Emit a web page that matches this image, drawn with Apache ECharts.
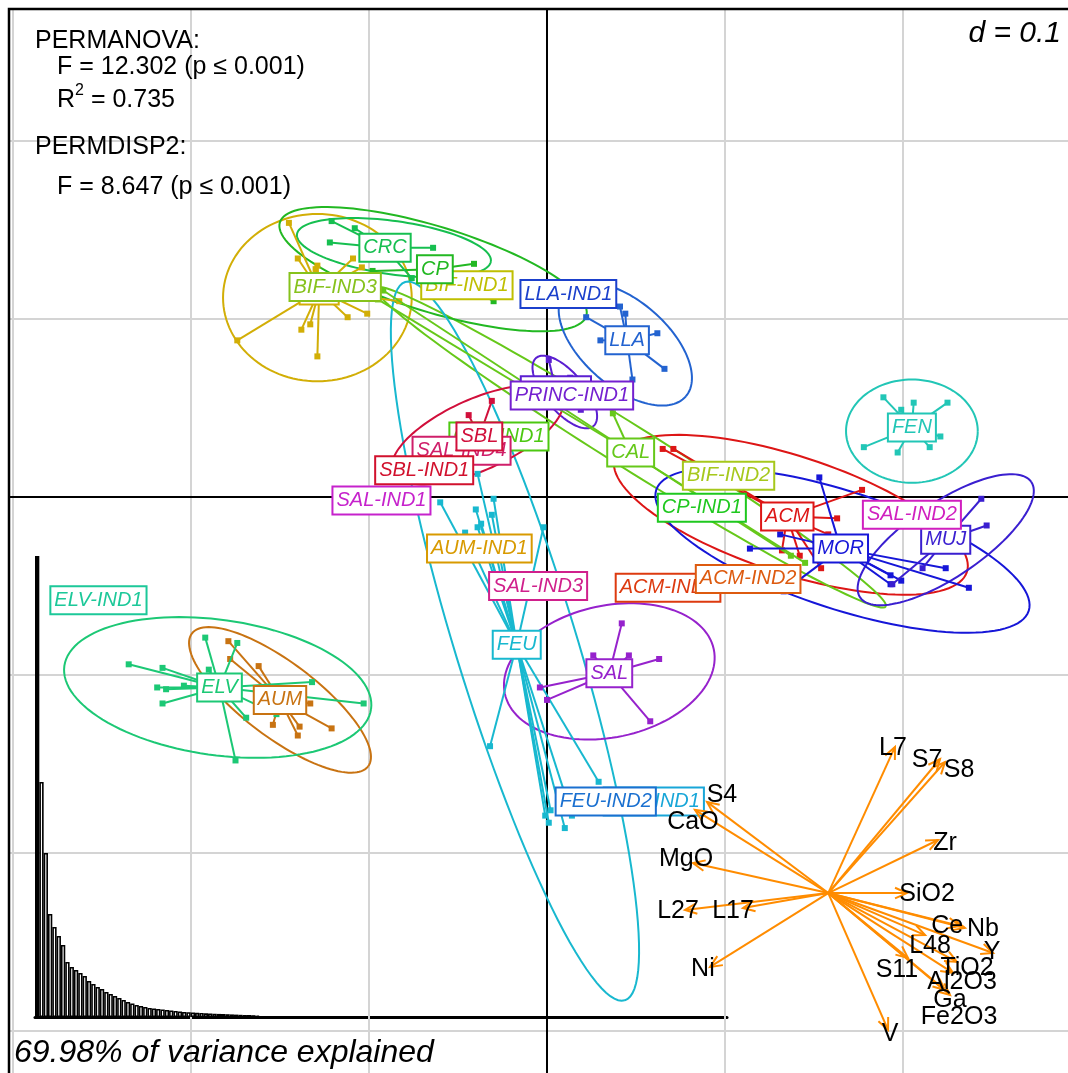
<!DOCTYPE html>
<html><head><meta charset="utf-8">
<script src="https://cdn.jsdelivr.net/npm/echarts@6/dist/echarts.min.js"></script>
<style>html,body{margin:0;padding:0;background:#fff}#c{width:1068px;height:1073px}</style>
</head><body><div id="c"></div>
<script>
// ---------------- DATA ----------------
const gridTicksX = [-0.3, -0.2, -0.1, 0.1, 0.2];
const gridTicksY = [0.2, 0.1, -0.1, -0.2, -0.3];

// group labels (alphabetical draw order), their positions (group means) and colours
const labelNames = ['ACM','ACM-IND1','ACM-IND2','AUM','AUM-IND1','BIF','BIF-IND1','BIF-IND2','BIF-IND3','CAL','CAL-IND1','CP','CP-IND1','CRC','ELV','ELV-IND1','FEN','FEU','FEU-IND1','FEU-IND2','LLA','LLA-IND1','MOR','MUJ','PRINC','PRINC-IND1','SAL','SAL-IND1','SAL-IND2','SAL-IND3','SAL-IND4','SBL','SBL-IND1'];
const labelX = [0.135,0.068,0.113,-0.150,-0.038,-0.128,-0.045,0.102,-0.119,0.047,-0.027,-0.063,0.087,-0.091,-0.184,-0.252,0.205,-0.017,0.060,0.033,0.045,0.012,0.165,0.224,0.005,0.014,0.035,-0.093,0.205,-0.005,-0.048,-0.038,-0.069];
const labelY = [-0.011,-0.051,-0.046,-0.114,-0.029,0.116,0.119,0.012,0.118,0.025,0.034,0.128,-0.006,0.140,-0.107,-0.058,0.039,-0.083,-0.171,-0.171,0.088,0.114,-0.029,-0.024,0.060,0.057,-0.099,-0.002,-0.010,-0.050,0.026,0.034,0.015];
const labelColors = ['#dd1616','#dd3a0f','#dd5a0f','#c87312','#d89a00','#d2ae06','#bfbf00','#a6c81c','#86c21c','#66c81a','#4cc811','#22b822','#1fc81f','#16bf50','#1cc875','#1cc899','#22c6b6','#18b8cf','#18a6d8','#1a70d0','#2363d0','#1b40cc','#1616d8','#3a1fd0','#5b1fd1','#7420d0','#9622cc','#c622cc','#d01fbf','#d0208c','#cf1f6a','#d10f3b','#d1112d'];

// ellipses (group, centre, semi-axes, angle in degrees)
const ellipseGroups = ['ACM','AUM','BIF','CAL','CP','CRC','ELV','FEN','FEU','LLA','MOR','MUJ','PRINC','SAL','SBL'];
const ellipseCx = [0.137,-0.150,-0.129,0.047,-0.064,-0.086,-0.185,0.205,-0.018,0.044,0.166,0.224,0.010,0.035,-0.039];
const ellipseCy = [-0.010,-0.114,0.112,0.028,0.128,0.140,-0.107,0.037,-0.081,0.086,-0.030,-0.024,0.059,-0.098,0.035];
const ellipseA  = [0.104,0.062,0.053,0.169,0.090,0.055,0.087,0.037,0.211,0.045,0.110,0.058,0.025,0.060,0.052];
const ellipseB  = [0.033,0.021,0.047,0.012,0.024,0.015,0.038,0.029,0.034,0.024,0.033,0.021,0.011,0.037,0.020];
const ellipseAngle = [-18,-37,0,-32,-17,-8,-8,0,-73,-41,-18,34,-50,12,24];

// individual samples per group (star points)
const ptsACM = [[0.065,0.027],[0.071,0.027],[0.177,0.004],[0.163,-0.012],[0.158,-0.021],[0.132,-0.030],[0.142,-0.033],[0.154,-0.040]];
const ptsAUM = [[-0.179,-0.081],[-0.178,-0.091],[-0.162,-0.095],[-0.133,-0.116],[-0.139,-0.129],[-0.121,-0.130],[-0.140,-0.134],[-0.154,-0.128]];
const ptsBIF = [[-0.145,0.154],[-0.140,0.134],[-0.129,0.130],[-0.130,0.128],[-0.109,0.134],[-0.104,0.129],[-0.112,0.101],[-0.101,0.103],[-0.083,0.110],[-0.174,0.088],[-0.138,0.094],[-0.133,0.097],[-0.129,0.079]];
const ptsCAL = [[-0.092,0.116],[-0.095,0.111],[0.037,0.047],[0.145,-0.037],[0.137,-0.033]];
const ptsCP = [[-0.041,0.131],[-0.030,0.110],[-0.098,0.127]];
const ptsCRC = [[-0.121,0.155],[-0.108,0.151],[-0.122,0.143],[-0.064,0.140],[-0.076,0.123]];
const ptsELV = [[-0.235,-0.094],[-0.216,-0.096],[-0.219,-0.107],[-0.214,-0.108],[-0.204,-0.106],[-0.216,-0.116],[-0.192,-0.079],[-0.174,-0.082],[-0.190,-0.097],[-0.169,-0.124],[-0.175,-0.148],[-0.132,-0.104],[-0.103,-0.116],[-0.152,-0.122]];
const ptsFEN = [[0.189,0.056],[0.206,0.053],[0.225,0.053],[0.199,0.049],[0.178,0.028],[0.197,0.025],[0.215,0.028],[0.221,0.034]];
const ptsFEU = [[-0.039,0.013],[-0.030,-0.001],[-0.060,-0.003],[-0.040,-0.007],[-0.031,-0.010],[-0.037,-0.015],[-0.039,-0.017],[-0.046,-0.020],[-0.002,-0.017],[-0.032,-0.140],[0.029,-0.160],[-0.001,-0.179],[0.001,-0.183],[0.010,-0.186],[0.014,-0.179],[0.002,-0.176]];
const ptsLLA = [[0.041,0.107],[0.044,0.103],[0.022,0.101],[0.030,0.088],[0.062,0.092],[0.066,0.072],[0.048,0.066]];
const ptsMOR = [[0.153,0.011],[0.114,-0.029],[0.131,-0.021],[0.133,-0.053],[0.193,-0.044],[0.199,-0.047],[0.193,-0.049],[0.224,-0.040],[0.237,-0.051]];
const ptsMUJ = [[0.244,-0.001],[0.247,-0.016],[0.211,-0.040],[0.194,-0.049]];
const ptsPRINC = [[0.001,0.077],[0.019,0.049],[0.013,0.067]];
const ptsSAL = [[0.042,-0.071],[0.063,-0.091],[0.046,-0.089],[0.026,-0.089],[-0.004,-0.107],[0.000,-0.114],[0.058,-0.126]];
const ptsSBL = [[-0.031,0.054],[-0.044,0.046]];

// variable arrows
const arrowOrigin = [0.158, -0.2225];
const arrowNames = ['L7','S7','S8','Zr','SiO2','Ce','Nb','Y','L48','TiO2','Al2O3','Ga','Fe2O3','S11','V','Ni','L27','L17','MgO','CaO','S4'];
const arrowTipX = [0.1955,0.2208,0.2236,0.2197,0.2022,0.2320,0.2348,0.2506,0.2124,0.2303,0.2281,0.2264,0.2236,0.2028,0.1916,0.0916,0.0775,0.1101,0.0820,0.0831,0.0899];
const arrowTipY = [-0.1404,-0.1472,-0.1489,-0.1927,-0.2225,-0.2410,-0.2421,-0.2562,-0.2461,-0.2612,-0.2674,-0.2798,-0.2770,-0.2590,-0.2994,-0.2640,-0.2320,-0.2309,-0.2056,-0.1758,-0.1713];
const arrowLabelX = [0.1944,0.2135,0.2315,0.2236,0.2135,0.2248,0.2449,0.2500,0.2152,0.2360,0.2332,0.2264,0.2315,0.1966,0.1927,0.0876,0.0736,0.1045,0.0781,0.0820,0.0983];
const arrowLabelY = [-0.1410,-0.1478,-0.1534,-0.1944,-0.2230,-0.2410,-0.2427,-0.2556,-0.2523,-0.2646,-0.2725,-0.2826,-0.2921,-0.2657,-0.3017,-0.2652,-0.2326,-0.2326,-0.2033,-0.1826,-0.1674];

// eigenvalues (inset bar plot)
const eigValues = [46.1,23.5,16.4,10.3,9.0,8.1,7.2,5.5,5.0,4.7,4.4,4.1,3.6,3.3,3.0,2.8,2.5,2.3,2.1,1.9,1.7,1.5,1.35,1.2,1.1,1.0,0.9,0.85,0.8,0.75,0.7,0.65,0.6,0.55,0.5,0.48,0.45,0.42,0.4,0.37,0.35,0.33,0.31,0.3,0.28,0.26,0.24,0.22,0.2,0.2,0.18,0.15,0.05,0.04,0.03];
const eigAxisCount = 160;

// ---------------- BUILD ----------------
const FONT = '"Liberation Sans", Arial, sans-serif';
const starSets = {ACM:ptsACM, AUM:ptsAUM, BIF:ptsBIF, CAL:ptsCAL, CP:ptsCP, CRC:ptsCRC, ELV:ptsELV, FEN:ptsFEN, FEU:ptsFEU, LLA:ptsLLA, MOR:ptsMOR, MUJ:ptsMUJ, PRINC:ptsPRINC, SAL:ptsSAL, SBL:ptsSBL};
const starData = [];
Object.keys(starSets).forEach(g => {
  const gi = labelNames.indexOf(g);
  starSets[g].forEach(p => starData.push([labelX[gi], labelY[gi], p[0], p[1], gi]));
});
const ellipseData = ellipseGroups.map((g, i) => [ellipseCx[i], ellipseCy[i], ellipseA[i], ellipseB[i], ellipseAngle[i], labelNames.indexOf(g)]);
const labelData = labelNames.map((n, i) => [labelX[i], labelY[i], i]);
const arrowData = arrowNames.map((n, i) => [arrowOrigin[0], arrowOrigin[1], arrowTipX[i], arrowTipY[i], i]);
const arrowLabelData = arrowNames.map((n, i) => [arrowLabelX[i], arrowLabelY[i], i]);
const eigCategories = Array.from({length: eigAxisCount}, (_, i) => String(i + 1));

const chart = echarts.init(document.getElementById('c'));
chart.setOption({
  animation: false,
  backgroundColor: '#fff',
  grid: [
    {left: 9, top: 9, right: 0, bottom: 0},
    {left: 35, top: 556, right: 341, bottom: 56}
  ],
  xAxis: [
    {type: 'value', gridIndex: 0, min: -0.30225, max: 0.29270, axisLine: {show: false}, axisTick: {show: false}, axisLabel: {show: false}, splitLine: {show: false}},
    {type: 'category', gridIndex: 1, data: eigCategories, boundaryGap: true, axisLine: {show: true, lineStyle: {color: '#000', width: 3}}, axisTick: {show: false}, axisLabel: {show: false}}
  ],
  yAxis: [
    {type: 'value', gridIndex: 0, min: -0.32360, max: 0.27416, axisLine: {show: false}, axisTick: {show: false}, axisLabel: {show: false}, splitLine: {show: false}},
    {type: 'value', gridIndex: 1, min: 0, max: eigValues[0], axisLine: {show: false}, axisTick: {show: false}, axisLabel: {show: false}, splitLine: {show: false}}
  ],
  series: [
    { // grid lines and zero axes
      type: 'custom', xAxisIndex: 0, yAxisIndex: 0, z: 1, silent: true,
      data: gridTicksX.map(v => [v, 0, 0]).concat(gridTicksY.map(v => [0, v, 1])).concat([[0, 0, 2], [0, 0, 3]]),
      renderItem: (params, api) => {
        const cs = params.coordSys, kind = api.value(2);
        const p = api.coord([api.value(0), api.value(1)]);
        const grey = {stroke: '#d4d4d4', lineWidth: 2};
        const black = {stroke: '#000', lineWidth: 2};
        if (kind === 0) return {type: 'line', shape: {x1: p[0], y1: cs.y, x2: p[0], y2: cs.y + cs.height}, style: grey};
        if (kind === 1) return {type: 'line', shape: {x1: cs.x, y1: p[1], x2: cs.x + cs.width, y2: p[1]}, style: grey};
        if (kind === 2) return {type: 'line', shape: {x1: p[0], y1: cs.y, x2: p[0], y2: cs.y + cs.height}, style: black, z2: 5};
        return {type: 'line', shape: {x1: cs.x, y1: p[1], x2: cs.x + cs.width, y2: p[1]}, style: black, z2: 5};
      }
    },
    { // eigenvalue inset
      type: 'bar', xAxisIndex: 1, yAxisIndex: 1, z: 2, silent: true, barCategoryGap: '0%',
      data: eigValues.map((v, i) => ({value: v, itemStyle: {color: i === 0 ? '#000' : '#fff', borderWidth: i === 0 ? 2.5 : 1.6}})),
      itemStyle: {borderColor: '#000', borderWidth: 1.6}
    },
    { // ellipses
      type: 'custom', xAxisIndex: 0, yAxisIndex: 0, z: 3, silent: true,
      data: ellipseData,
      renderItem: (params, api) => {
        const cx = api.value(0), cy = api.value(1), a = api.value(2), b = api.value(3), th = api.value(4) * Math.PI / 180;
        const pts = [];
        for (let k = 0; k <= 120; k++) {
          const t = k / 120 * 2 * Math.PI, ex = a * Math.cos(t), ey = b * Math.sin(t);
          pts.push(api.coord([cx + ex * Math.cos(th) - ey * Math.sin(th), cy + ex * Math.sin(th) + ey * Math.cos(th)]));
        }
        return {type: 'polyline', shape: {points: pts}, style: {stroke: labelColors[api.value(5)], lineWidth: 2, fill: null}};
      }
    },
    { // stars
      type: 'custom', xAxisIndex: 0, yAxisIndex: 0, z: 4, silent: true,
      data: starData,
      renderItem: (params, api) => {
        const c = api.coord([api.value(0), api.value(1)]);
        const p = api.coord([api.value(2), api.value(3)]);
        const col = labelColors[api.value(4)];
        return {type: 'group', children: [
          {type: 'line', shape: {x1: c[0], y1: c[1], x2: p[0], y2: p[1]}, style: {stroke: col, lineWidth: 2}},
          {type: 'rect', shape: {x: p[0] - 3, y: p[1] - 3, width: 6, height: 6}, style: {fill: col}}
        ]};
      }
    },
    { // group labels
      type: 'custom', xAxisIndex: 0, yAxisIndex: 0, z: 5, silent: true,
      data: labelData,
      renderItem: (params, api) => {
        const p = api.coord([api.value(0), api.value(1)]);
        const i = api.value(2);
        return {type: 'text', x: p[0], y: p[1], style: {
          text: labelNames[i], fill: labelColors[i], fontSize: 20, fontStyle: 'italic', fontFamily: FONT,
          align: 'center', verticalAlign: 'middle', lineHeight: 22,
          backgroundColor: '#fff', borderColor: labelColors[i], borderWidth: 2, padding: [2, 3, 2, 3]
        }};
      }
    },
    { // arrows
      type: 'custom', xAxisIndex: 0, yAxisIndex: 0, z: 6, silent: true,
      data: arrowData,
      renderItem: (params, api) => {
        const o = api.coord([api.value(0), api.value(1)]);
        const t = api.coord([api.value(2), api.value(3)]);
        const ang = Math.atan2(t[1] - o[1], t[0] - o[0]);
        const L = 13, s = 0.42;
        const h1 = [t[0] - L * Math.cos(ang - s), t[1] - L * Math.sin(ang - s)];
        const h2 = [t[0] - L * Math.cos(ang + s), t[1] - L * Math.sin(ang + s)];
        const st = {stroke: '#ff8c00', lineWidth: 2};
        return {type: 'group', children: [
          {type: 'line', shape: {x1: o[0], y1: o[1], x2: t[0], y2: t[1]}, style: st},
          {type: 'polyline', shape: {points: [h1, t, h2]}, style: Object.assign({fill: null}, st)}
        ]};
      }
    },
    { // arrow labels
      type: 'custom', xAxisIndex: 0, yAxisIndex: 0, z: 7, silent: true,
      data: arrowLabelData,
      renderItem: (params, api) => {
        const p = api.coord([api.value(0), api.value(1)]);
        return {type: 'text', x: p[0], y: p[1], style: {
          text: arrowNames[api.value(2)], fill: '#000', fontSize: 25, fontFamily: FONT, align: 'center', verticalAlign: 'middle'
        }};
      }
    }
  ],
  graphic: [
    {type: 'polyline', z: 100, shape: {points: [[9, 1075], [9, 9], [1070, 9]]}, style: {stroke: '#000', lineWidth: 2.5, fill: null}},
    {type: 'text', z: 100, x: 35, y: 41, style: {text: 'PERMANOVA:', fontSize: 25, fontFamily: FONT, fill: '#000', verticalAlign: 'middle'}},
    {type: 'text', z: 100, x: 57, y: 67, style: {text: 'F = 12.302 (p \u2264 0.001)', fontSize: 25, fontFamily: FONT, fill: '#000', verticalAlign: 'middle'}},
    {type: 'text', z: 100, x: 57, y: 98, style: {text: '{r|R}{s|2}{r| = 0.735}', fontFamily: FONT, fill: '#000', verticalAlign: 'middle',
      rich: {r: {fontSize: 25, fontFamily: FONT, verticalAlign: 'bottom', lineHeight: 30}, s: {fontSize: 16, fontFamily: FONT, verticalAlign: 'top', lineHeight: 16}}}},
    {type: 'text', z: 100, x: 35, y: 147, style: {text: 'PERMDISP2:', fontSize: 25, fontFamily: FONT, fill: '#000', verticalAlign: 'middle'}},
    {type: 'text', z: 100, x: 57, y: 187, style: {text: 'F = 8.647 (p \u2264 0.001)', fontSize: 25, fontFamily: FONT, fill: '#000', verticalAlign: 'middle'}},
    {type: 'text', z: 100, x: 1061, y: 34, style: {text: 'd = 0.1', fontSize: 30, fontStyle: 'italic', fontFamily: FONT, fill: '#000', align: 'right', verticalAlign: 'middle'}},
    {type: 'text', z: 100, x: 14, y: 1053, style: {text: '69.98% of variance explained', fontSize: 32, fontStyle: 'italic', fontFamily: FONT, fill: '#000', verticalAlign: 'middle'}}
  ]
});
</script></body></html>
